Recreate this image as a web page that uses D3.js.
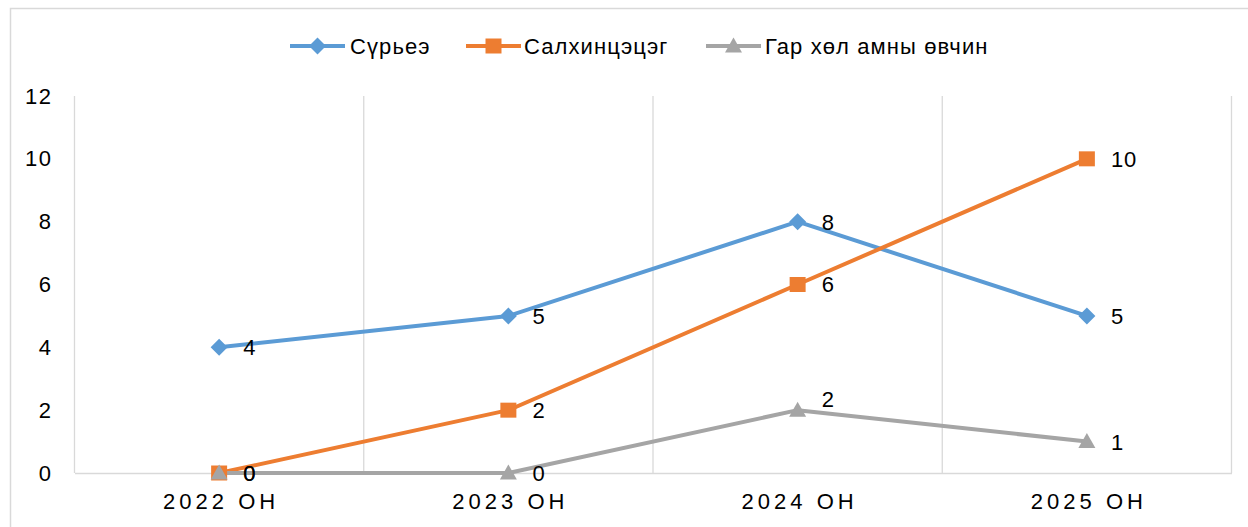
<!DOCTYPE html>
<html>
<head>
<meta charset="utf-8">
<script src="https://cdn.jsdelivr.net/npm/d3@7/dist/d3.min.js"></script>
<style>
html,body{margin:0;padding:0;background:#fff;}
svg{display:block;font-family:"Liberation Sans",Arial,sans-serif;}
</style>
</head>
<body>
<svg id="chart" width="1248" height="527"></svg>
<script>
const categories = ["2022 ОН", "2023 ОН", "2024 ОН", "2025 ОН"];
const seriesNames = ["Сүрьеэ", "Салхинцэцэг", "Гар хөл амны өвчин"];
const suryee = [4, 5, 8, 5];
const salkhi = [0, 2, 6, 10];
const garkhol = [0, 0, 2, 1];
const yTicks = [0, 2, 4, 6, 8, 10, 12];

const colors = ["#5B9BD5", "#ED7D31", "#A5A5A5"];

// custom marker shapes (Excel style)
const markerPath = [
  "M0,-8.5L8.5,0L0,8.5L-8.5,0Z",        // diamond
  "M-8,-7.5L8,-7.5L8,7.5L-8,7.5Z",      // square
  "M0,-8.5L8.5,6.5L-8.5,6.5Z"           // triangle
];
const series = [suryee, salkhi, garkhol].map((v, i) => ({name: seriesNames[i], values: v, color: colors[i], marker: markerPath[i]}));

const svg = d3.select("#chart");
const W = 1248, H = 527;
const plot = {left: 74.5, right: 1231.5, top: 96, bottom: 473};

// outer border
svg.append("rect").attr("x", 10.5).attr("y", 8.5).attr("width", W + 20).attr("height", H + 20)
  .attr("fill", "none").attr("stroke", "#d9d9d9").attr("stroke-width", 1.5);

const x = d3.scaleBand().domain(categories).range([plot.left, plot.right]).padding(0);
const y = d3.scaleLinear().domain([0, 12]).range([plot.bottom, plot.top]);

// vertical gridlines at band boundaries
const bounds = categories.map(c => x(c)).concat([x(categories[categories.length - 1]) + x.bandwidth()]);
svg.append("g").selectAll("line").data(bounds).join("line")
  .attr("x1", d => d).attr("x2", d => d).attr("y1", plot.top).attr("y2", plot.bottom)
  .attr("stroke", "#d9d9d9").attr("stroke-width", 1.3);

// x axis
const xAxis = svg.append("g").attr("transform", `translate(0,${plot.bottom})`)
  .call(d3.axisBottom(x).tickSize(0).tickPadding(20));
xAxis.select(".domain").attr("stroke", "#d9d9d9").attr("stroke-width", 1.3);
xAxis.selectAll("text").attr("font-size", 22).attr("fill", "#000")
  .attr("font-family", "Liberation Sans, Arial, sans-serif")
  .attr("dx", "2px")
  .style("letter-spacing", "4px");

// y axis
const yAxis = svg.append("g").attr("transform", `translate(${plot.left},0)`)
  .call(d3.axisLeft(y).tickValues(yTicks).tickSize(0).tickPadding(22));
yAxis.select(".domain").remove();
yAxis.selectAll("text").attr("font-size", 22).attr("fill", "#000")
  .attr("font-family", "Liberation Sans, Arial, sans-serif")
  .style("letter-spacing", "1.5px");

const cx = c => x(c) + x.bandwidth() / 2;
const line = d3.line().x((d, i) => cx(categories[i])).y(d => y(d));

series.forEach(s => {
  svg.append("path").datum(s.values).attr("d", line)
    .attr("fill", "none").attr("stroke", s.color).attr("stroke-width", 4)
    .attr("stroke-linejoin", "round");
});
series.forEach(s => {
  svg.append("g").selectAll("path").data(s.values).join("path")
    .attr("transform", (d, i) => `translate(${cx(categories[i])},${y(d)})`)
    .attr("d", s.marker)
    .attr("fill", s.color);
});

// data labels
series.forEach((s, si) => {
  svg.append("g").selectAll("text").data(s.values).join("text")
    .attr("x", (d, i) => cx(categories[i]) + 24)
    .attr("y", (d, i) => y(d) + ((si === 2 && i === 2) ? -11 : 0))
    .attr("dy", "0.36em")
    .attr("font-size", 22).attr("fill", "#000")
    .style("letter-spacing", "1px")
    .text(d => d);
});

// legend
const legendItems = [
  {lx: 290, tx: 350},
  {lx: 466, tx: 524},
  {lx: 706, tx: 765}
];
const lg = svg.append("g");
series.forEach((s, i) => {
  const it = legendItems[i];
  const ly = 46;
  lg.append("line").attr("x1", it.lx).attr("x2", it.lx + 55).attr("y1", ly).attr("y2", ly)
    .attr("stroke", s.color).attr("stroke-width", 4);
  lg.append("path").attr("transform", `translate(${it.lx + 27.5},${ly})`)
    .attr("d", s.marker)
    .attr("fill", s.color);
  lg.append("text").attr("x", it.tx).attr("y", ly).attr("dy", "0.36em")
    .attr("font-size", 22).attr("fill", "#000")
    .style("letter-spacing", "1.1px")
    .text(s.name);
});
</script>
</body>
</html>
